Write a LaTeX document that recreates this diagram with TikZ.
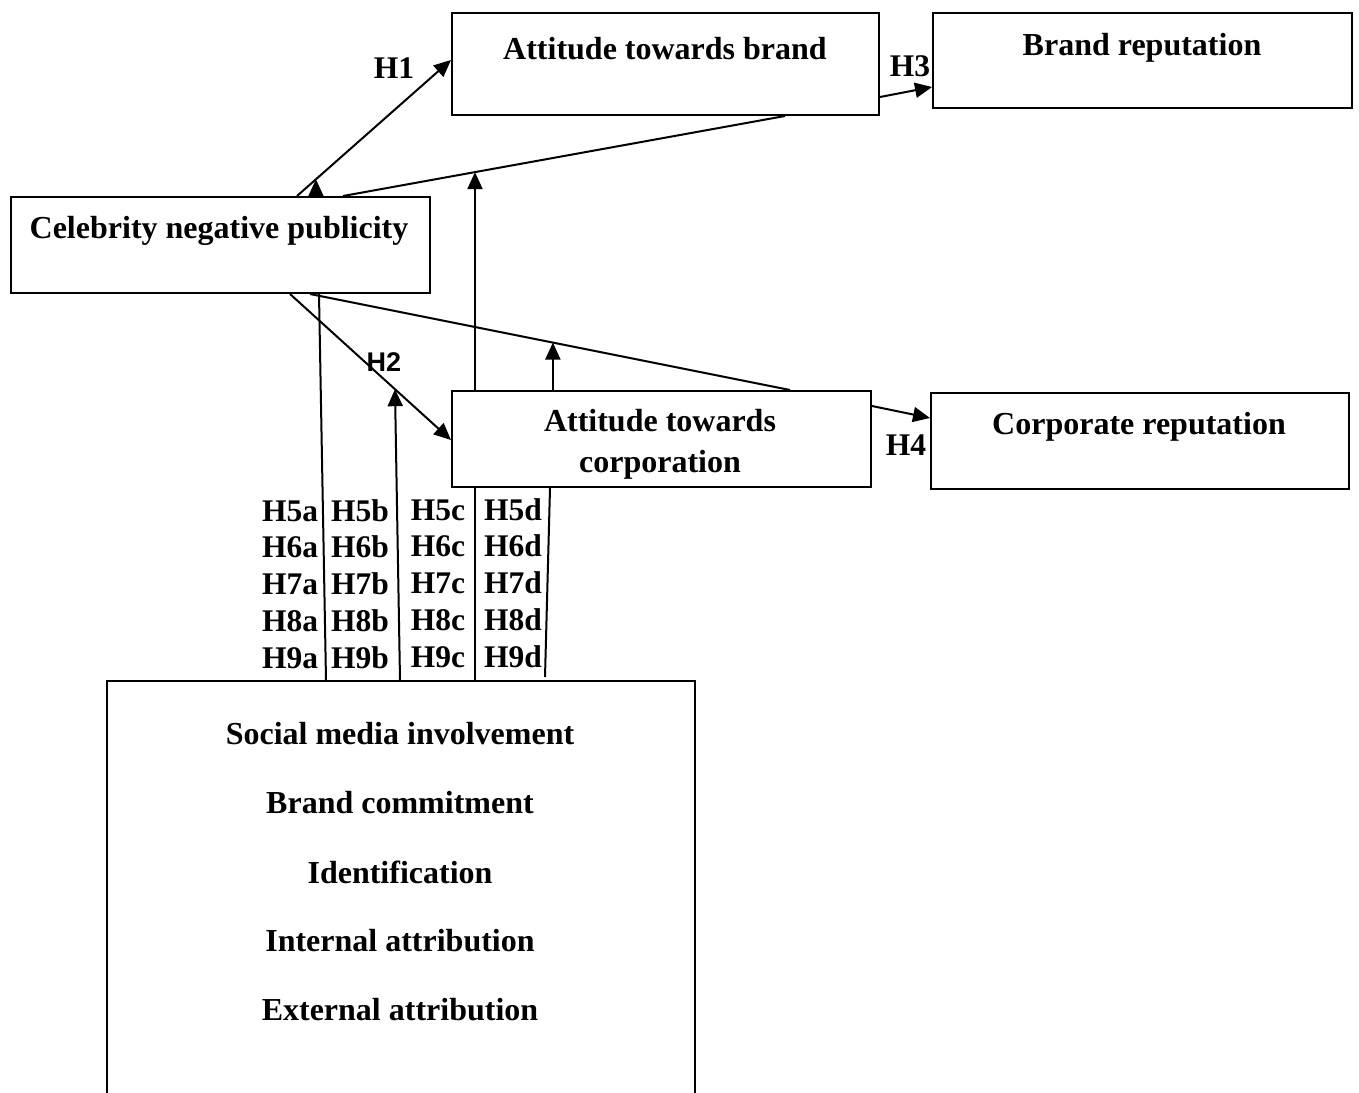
\documentclass[tikz,border=0pt]{standalone}
\usepackage{fontspec}
\setmainfont{Liberation Serif}
\setsansfont{Liberation Sans}
\usetikzlibrary{arrows.meta,calc}
\begin{document}
\begin{tikzpicture}[x=1pt,y=-1pt,
  box/.style={draw, line width=2pt, fill=white, inner sep=0pt, anchor=north west},
  txt/.style={font=\fontsize{32}{38}\selectfont\bfseries, anchor=base, inner sep=0pt},
  hyp/.style={font=\fontsize{31.5}{37}\selectfont\bfseries, anchor=base, inner sep=0pt},
  conn/.style={line width=2pt},
  arr/.style={conn, -{Triangle[length=17pt,width=15pt]}}]
\useasboundingbox (0,0) rectangle (1359,1092);
\clip (0,0) rectangle (1359,1092);

% boxes
\node[box, minimum width=427pt, minimum height=102pt] (ab) at (451,12) {};
\node[box, minimum width=419pt, minimum height=95pt] (br) at (932,12) {};
\node[box, minimum width=419pt, minimum height=96pt] (cnp) at (10,196) {};
\node[box, minimum width=419pt, minimum height=96pt] (ac) at (451,390) {};
\node[box, minimum width=418pt, minimum height=96pt] (cr) at (930,392) {};
\node[box, minimum width=588pt, minimum height=440pt] (mod) at (106,680) {};

% box texts
\node[txt] (abT) at (665,59) {Attitude towards brand};
\node[txt] (brT) at (1142,55) {Brand reputation};
\node[txt] (cnpT) at (219,238) {Celebrity negative publicity};
\node[txt] (acT1) at (660,431) {Attitude towards};
\node[txt] (acT2) at (660,472) {corporation};
\node[txt] (crT) at (1139,434) {Corporate reputation};
\node[txt] (modT1) at (400,744) {Social media involvement};
\node[txt] (modT2) at (400,813) {Brand commitment};
\node[txt] (modT3) at (400,883) {Identification};
\node[txt] (modT4) at (400,951) {Internal attribution};
\node[txt] (modT5) at (400,1020) {External attribution};

% main paths
\draw[arr] ($(cnp.north west)+(287,0)$) -- coordinate[pos=0.123] (m0) ($(ab.north west)+(0,48)$);
\draw[conn] ($(cnp.north west)+(333,0)$) -- coordinate[pos=0.2986] (m1) ($(ab.south west)+(334,0)$);
\draw[arr] ($(ab.north east)+(0,85)$) -- ($(br.north west)+(0,75)$);
\draw[arr] ($(cnp.south west)+(280,0)$) -- coordinate[pos=0.652] (m2) ($(ac.north west)+(0,50)$);
\draw[conn] ($(cnp.south west)+(300,0)$) -- coordinate[pos=0.506] (m3) ($(ac.north west)+(339,0)$);
\draw[arr] ($(ac.north east)+(0,16)$) -- ($(cr.north west)+(0,26)$);

% moderating paths
\draw[conn] ($(mod.north west)+(220,0)$) -- ($(cnp.south west)+(309,0)$);
\draw[arr] (m0 |- cnp.north) -- (m0);
\draw[arr] ($(mod.north west)+(294,0)$) -- (m2);
\draw[conn] (m1 |- mod.north) -- (m1 |- ac.south);
\draw[arr] (m1 |- ac.north) -- (m1);
\draw[conn] ($(mod.north west)+(439,-3)$) -- ($(ac.south west)+(99,0)$);
\draw[arr] (m3 |- ac.north) -- (m3);

% hypothesis labels
\node[hyp] (h1) at (394,78) {H1};
\node[hyp] (h3) at (910,76) {H3};
\node[hyp] (h4) at (906,455) {H4};
\node[font=\fontsize{27}{32}\selectfont\sffamily\bfseries, anchor=base, inner sep=0pt] (h2) at (384,371) {H2};

\foreach \n [count=\i from 0] in {5,6,7,8,9} {
  \node[hyp] (h\n a) at (290,{521+36.8*\i}) {H\n a};
  \node[hyp] (h\n b) at (360,{521+36.8*\i}) {H\n b};
  \node[hyp] (h\n c) at (438,{520+36.8*\i}) {H\n c};
  \node[hyp] (h\n d) at (513,{520+36.8*\i}) {H\n d};
}
\end{tikzpicture}
\end{document}
